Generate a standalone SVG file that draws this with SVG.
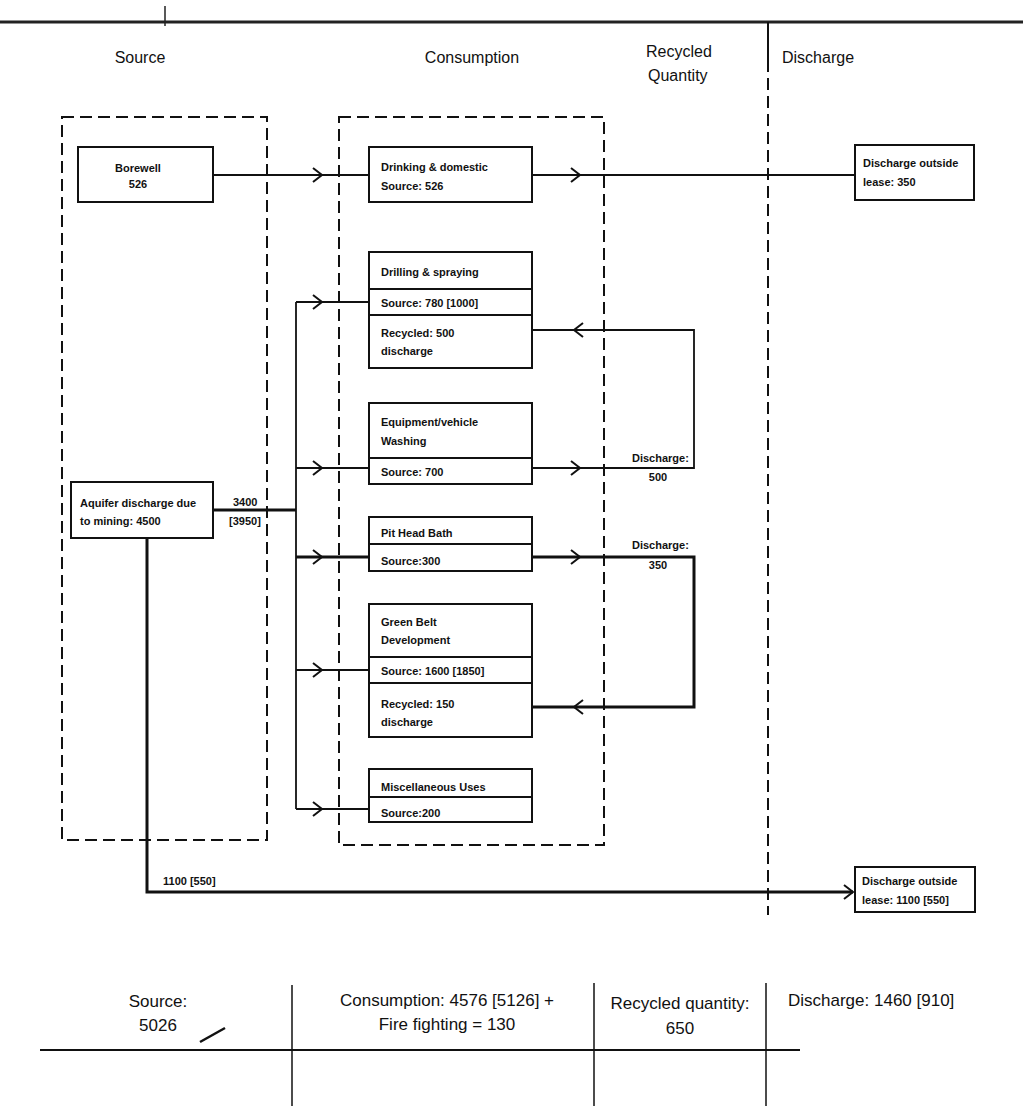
<svg xmlns="http://www.w3.org/2000/svg" xmlns:xlink="http://www.w3.org/1999/xlink" width="1023" height="1106" viewBox="0 0 1023 1106">
<style>
  .bg { fill: #ffffff; }
  .box { fill: #ffffff; stroke: #111; stroke-width: 2; }
  .div { stroke: #111; stroke-width: 2; }
  .dash { fill: none; stroke: #111; stroke-width: 2; stroke-dasharray: 12 6; }
  .ln { fill: none; stroke: #111; stroke-width: 1.8; }
  .thick { stroke-width: 3; }
  .t { font-family: "Liberation Sans Narrow", "Liberation Sans", Arial, sans-serif; font-size: 11px; font-weight: bold; fill: #111; }
  .h { font-family: "Liberation Sans Narrow", "Liberation Sans", Arial, sans-serif; font-size: 16px; fill: #111; }
  .b { font-family: "Liberation Sans Narrow", "Liberation Sans", Arial, sans-serif; font-size: 17px; fill: #111; }
  .c { text-anchor: middle; }
</style>
<defs>
  <path id="ah" d="M-9,-7 L0,0 L-9,7" fill="none" stroke="#111" stroke-width="2"/>
</defs>
<rect class="bg" x="0" y="0" width="1023" height="1106"/>

<!-- frame / header -->
<g id="frame">
  <line x1="0" y1="22" x2="1023" y2="22" stroke="#222" stroke-width="3"/>
  <line x1="165" y1="6" x2="165" y2="26" stroke="#222" stroke-width="1.5"/>
  <line x1="768" y1="22" x2="768" y2="60" stroke="#111" stroke-width="2"/>
  <line x1="768" y1="60" x2="768" y2="915" class="dash" stroke-dasharray="16 6"/>
  <text class="h c" x="140" y="63">Source</text>
  <text class="h c" x="472" y="63">Consumption</text>
  <text class="h" x="646" y="57">Recycled</text>
  <text class="h" x="648" y="81">Quantity</text>
  <text class="h" x="782" y="63">Discharge</text>
  <rect class="dash" x="62" y="117" width="205" height="723"/>
  <rect class="dash" x="339" y="117" width="265" height="728"/>
</g>

<!-- connectors -->
<g id="connectors">
  <path class="ln" d="M213,175 H369"/>
  <path class="ln" d="M532,175 H855"/>
  <path class="ln thick" d="M213,510 H296"/>
  <path class="ln" d="M296,302 V809"/>
  <path class="ln" d="M296,302 H369"/>
  <path class="ln" d="M296,468 H369"/>
  <path class="ln thick" d="M296,557 H369"/>
  <path class="ln" d="M296,670 H369"/>
  <path class="ln" d="M296,809 H369"/>
  <path class="ln" d="M532,468 H694 V330 H532"/>
  <path class="ln thick" d="M532,557 H694 V707 H532"/>
  <path class="ln thick" d="M147,538 V892 H853"/>
  <use xlink:href="#ah" transform="translate(322,175)"/>
  <use xlink:href="#ah" transform="translate(580,175)"/>
  <use xlink:href="#ah" transform="translate(322,302)"/>
  <use xlink:href="#ah" transform="translate(322,468)"/>
  <use xlink:href="#ah" transform="translate(322,557)"/>
  <use xlink:href="#ah" transform="translate(322,670)"/>
  <use xlink:href="#ah" transform="translate(322,809)"/>
  <use xlink:href="#ah" transform="translate(580,468)"/>
  <use xlink:href="#ah" transform="translate(580,557)"/>
  <use xlink:href="#ah" transform="translate(574,330) rotate(180)"/>
  <use xlink:href="#ah" transform="translate(574,707) rotate(180)"/>
  <use xlink:href="#ah" transform="translate(853,892)"/>
  <text class="t" x="233" y="506">3400</text>
  <text class="t" x="229" y="525">[3950]</text>
  <text class="t" x="632" y="462">Discharge:</text>
  <text class="t c" x="658" y="481">500</text>
  <text class="t" x="632" y="549">Discharge:</text>
  <text class="t c" x="658" y="569">350</text>
  <text class="t" x="163" y="885">1100 [550]</text>
</g>

<!-- nodes -->
<g id="borewell">
  <rect class="box" x="78" y="147" width="135" height="55"/>
  <text class="t c" x="138" y="172">Borewell</text>
  <text class="t c" x="138" y="188">526</text>
</g>
<g id="aquifer">
  <rect class="box" x="71" y="482" width="142" height="56"/>
  <text class="t" x="80" y="507">Aquifer discharge due</text>
  <text class="t" x="80" y="525">to mining: 4500</text>
</g>
<g id="drinking">
  <rect class="box" x="369" y="147" width="163" height="55"/>
  <text class="t" x="381" y="171">Drinking &amp; domestic</text>
  <text class="t" x="381" y="190">Source: 526</text>
</g>
<g id="drilling">
  <rect class="box" x="369" y="252" width="163" height="116"/>
  <line class="div" x1="369" y1="289" x2="532" y2="289"/>
  <line class="div" x1="369" y1="315" x2="532" y2="315"/>
  <text class="t" x="381" y="276">Drilling &amp; spraying</text>
  <text class="t" x="381" y="307">Source: 780 [1000]</text>
  <text class="t" x="381" y="337">Recycled: 500</text>
  <text class="t" x="381" y="355">discharge</text>
</g>
<g id="washing">
  <rect class="box" x="369" y="403" width="163" height="81"/>
  <line class="div" x1="369" y1="458" x2="532" y2="458"/>
  <text class="t" x="381" y="426">Equipment/vehicle</text>
  <text class="t" x="381" y="445">Washing</text>
  <text class="t" x="381" y="476">Source: 700</text>
</g>
<g id="pithead">
  <rect class="box" x="369" y="517" width="163" height="54"/>
  <line class="div" x1="369" y1="544" x2="532" y2="544"/>
  <text class="t" x="381" y="537">Pit Head Bath</text>
  <text class="t" x="381" y="565">Source:300</text>
</g>
<g id="greenbelt">
  <rect class="box" x="369" y="604" width="163" height="133"/>
  <line class="div" x1="369" y1="657" x2="532" y2="657"/>
  <line class="div" x1="369" y1="683" x2="532" y2="683"/>
  <text class="t" x="381" y="626">Green Belt</text>
  <text class="t" x="381" y="644">Development</text>
  <text class="t" x="381" y="675">Source: 1600 [1850]</text>
  <text class="t" x="381" y="708">Recycled: 150</text>
  <text class="t" x="381" y="726">discharge</text>
</g>
<g id="misc">
  <rect class="box" x="369" y="769" width="163" height="53"/>
  <line class="div" x1="369" y1="797" x2="532" y2="797"/>
  <text class="t" x="381" y="791">Miscellaneous Uses</text>
  <text class="t" x="381" y="817">Source:200</text>
</g>
<g id="discharge350">
  <rect class="box" x="855" y="145" width="119" height="55"/>
  <text class="t" x="863" y="167">Discharge outside</text>
  <text class="t" x="863" y="186">lease: 350</text>
</g>
<g id="discharge1100">
  <rect class="box" x="855" y="867" width="120" height="45"/>
  <text class="t" x="862" y="885">Discharge outside</text>
  <text class="t" x="862" y="904">lease: 1100 [550]</text>
</g>

<!-- summary table -->
<g id="summary">
  <line x1="40" y1="1050" x2="800" y2="1050" stroke="#111" stroke-width="2"/>
  <line x1="292" y1="985" x2="292" y2="1106" stroke="#111" stroke-width="1.5"/>
  <line x1="594" y1="983" x2="594" y2="1106" stroke="#111" stroke-width="1.5"/>
  <line x1="766" y1="983" x2="766" y2="1106" stroke="#111" stroke-width="1.5"/>
  <text class="b c" x="158" y="1007">Source:</text>
  <text class="b c" x="158" y="1031">5026</text>
  <text class="b c" x="447" y="1006">Consumption: 4576 [5126] +</text>
  <text class="b c" x="447" y="1030">Fire fighting = 130</text>
  <text class="b c" x="680" y="1009">Recycled quantity:</text>
  <text class="b c" x="680" y="1034">650</text>
  <text class="b" x="788" y="1006">Discharge: 1460 [910]</text>
  <path d="M200,1042 L225,1028" stroke="#111" stroke-width="2.5" fill="none"/>
</g>
</svg>
